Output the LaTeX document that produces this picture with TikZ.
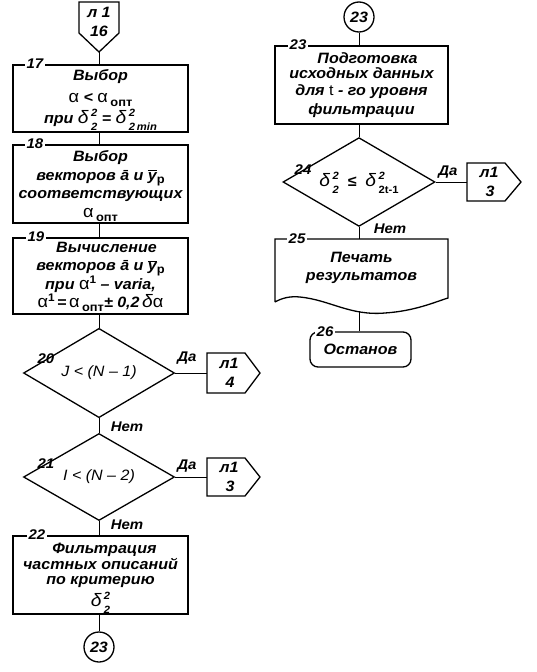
\documentclass[tikz,border=0pt]{standalone}
\usepackage{fontspec}
\usepackage{amsmath}
\setmainfont{Liberation Sans}[FakeStretch=1.07]
\usetikzlibrary{shapes.geometric}
\newcommand{\myal}{\smash{\normalfont\fontsize{17}{17}\selectfont α}}
\newcommand{\mydel}{\smash{\mdseries\itshape\fontsize{18}{18}\selectfont δ}}
\newcommand{\sopt}{\,\smash{\raisebox{-4pt}{\fontsize{12}{12}\selectfont\upshape опт}}}
\newcommand{\supone}{\smash{\raisebox{6pt}{\fontsize{11}{11}\selectfont\upshape 1}}}
\newcommand{\supsub}[2]{\hspace{2.5pt}\smash{\raisebox{0.5pt}{\fontsize{10.5}{14}\selectfont\begin{tabular}{@{}l@{}}#1\\#2\end{tabular}}}}
\newcommand{\ybar}{$\overline{\text{y}}$\smash{\raisebox{-3pt}{\fontsize{12}{12}\selectfont\upshape p}}}
\begin{document}
\begin{tikzpicture}[x=1pt,y=-1pt,
  txt/.style={font=\bfseries\itshape\fontsize{15}{18.5}\selectfont, align=center, inner sep=0pt},
  box/.style={txt, draw, line width=1.5pt, minimum width=175pt},
  dia/.style={draw, line width=1.3pt, shape=diamond, minimum width=151pt, minimum height=87pt, inner sep=0pt, font=\itshape\fontsize{15}{18}\selectfont},
  conn/.style={line width=1.3pt},
  num/.style={font=\bfseries\itshape\fontsize{14}{14}\selectfont, fill=white, inner xsep=1.5pt, inner ysep=0pt},
  lab/.style={font=\bfseries\itshape\fontsize{14}{14}\selectfont, inner sep=0pt},
  ln/.style={line width=0.9pt},
  circ/.style={draw, circle, line width=1.3pt, minimum size=30pt, inner sep=0pt, font=\bfseries\itshape\fontsize{15}{15}\selectfont}
]
\useasboundingbox (0,0) rectangle (536,672);

% top off-page connector
\draw[conn] (79,2) -- (119,2) -- (119,33) -- (99,52) -- (79,33) -- cycle;
\node[txt] (c16) at (99,22) {л 1\\16};
\coordinate (c16tip) at (99,52);

% box 17
\node[box, minimum height=67pt] (b17) at (100.5,98.5)
  {Выбор\\[3pt] \myal\ <\ \myal\sopt\\[3pt] при\ \mydel\supsub{2}{2} = \mydel\supsub{2}{2\,min}};
\node[num] at (35,64) {17};

% box 18
\node[box, minimum height=78pt] (b18) at (100.5,184)
  {Выбор\\ векторов ā и \ybar\\ соответствующих\\ \myal\sopt};
\node[num] at (35,144) {18};

% box 19
\node[box, minimum height=76pt] (b19) at (100.5,276)
  {\hspace*{12pt}Вычисление\\ векторов ā и \ybar\\ при \myal\supone\ – varia,\\ \myal\supone\,=\,\myal\sopt± 0,2\,\mydel\myal};
\node[num] at (36,237) {19};

% diamond 20
\node[dia] (d20) at (99,373) {J < (N – 1)};
\node[lab] at (46,359) {20};
\draw[conn] (207,353) -- (245,353) -- (260,373) -- (245,393) -- (207,393) -- cycle;
\node[txt, minimum width=38pt, minimum height=40pt] (l4) at (226,373) {\hspace*{6pt}л1\\ \hspace*{8pt}4};
\node[lab] at (187,358) {Да};

% diamond 21
\node[dia] (d21) at (99,477) {I < (N – 2)};
\node[lab] at (46,464) {21};
\draw[conn] (207,458) -- (245,458) -- (260,477) -- (245,496) -- (207,496) -- cycle;
\node[txt, minimum width=38pt, minimum height=38pt] (l3a) at (226,477) {\hspace*{6pt}л1\\ \hspace*{8pt}3};
\node[lab] at (187,466) {Да};
\node[lab] at (127,427) {Нет};
\node[lab] at (127,525) {Нет};

% box 22
\node[box, minimum height=78pt] (b22) at (100.5,575)
  {\hspace*{8pt}Фильтрация\\[-3pt] частных описаний\\[-3pt] по критерию\\[3pt] \mydel\supsub{2}{2}};
\node[num] at (37,535) {22};

% circle 23 (left)
\node[circ] (o23a) at (99,647) {23};

% right column
\node[circ] (o23b) at (359,17) {23};
\node[box, minimum width=173pt, minimum height=78pt] (b23) at (361.5,85)
  {\hspace*{12pt}Подготовка\\[-3pt] исходных данных\\[-2pt] для {\upshape\mdseries t} - го уровня\\[1pt] фильтрации};
\node[num] at (298,45) {23};

\node[dia, minimum width=152pt, minimum height=86pt, font=\bfseries\itshape\fontsize{15}{18}\selectfont] (d24) at (359,182)
  {\mydel\supsub{2}{2}\ \ ≤\ \ \mydel\supsub{2}{\upshape 2t-1}};
\node[lab] at (303,170) {24};
\draw[conn] (467,163) -- (505,163) -- (521,182) -- (505,201) -- (467,201) -- cycle;
\node[txt, minimum width=38pt, minimum height=38pt] (l3b) at (486,182) {\hspace*{6pt}л1\\ \hspace*{8pt}3};
\node[lab] at (448,172) {Да};
\node[lab] at (390,229) {Нет};

% document 25
\draw[conn] (275,302) -- (275,239) -- (448,239) -- (448,298)
  .. controls (435,302) and (415,311) .. (385,313)
  .. controls (350,316) and (330,300) .. (300,297)
  .. controls (290,296) and (282,298) .. (275,302);
\node[txt, minimum width=170pt, minimum height=50pt] (d25) at (361.5,268) {Печать\\ результатов};
\coordinate (d25b) at (359,311);
\coordinate (d25t) at (359,239);
\node[num] at (297,239) {25};

% terminal 26
\node[txt, draw, line width=1.3pt, rounded corners=8pt, minimum width=101pt, minimum height=35pt] (t26) at (360.5,349.5) {Останов};
\node[num] at (325,332) {26};

% connectors
\draw[ln] (c16tip) -- (b17.north -| c16tip);
\draw[ln] (b17.south -| c16tip) -- (b18.north -| c16tip);
\draw[ln] (b18.south -| c16tip) -- (b19.north -| c16tip);
\draw[ln] (b19.south -| c16tip) -- (d20.north);
\draw[ln] (d20.south) -- (d21.north);
\draw[ln] (d21.south) -- (b22.north -| d21.south);
\draw[ln] (b22.south -| o23a.north) -- (o23a.north);
\draw[ln] (d20.east) -- (l4.west);
\draw[ln] (d21.east) -- (l3a.west);
\draw[ln] (o23b.south) -- (b23.north -| o23b.south);
\draw[ln] (b23.south -| d24.north) -- (d24.north);
\draw[ln] (d24.east) -- (l3b.west);
\draw[ln] (d24.south) -- (d25t);
\draw[ln] (d25b) -- (t26.north -| d25b);
\end{tikzpicture}
\end{document}
